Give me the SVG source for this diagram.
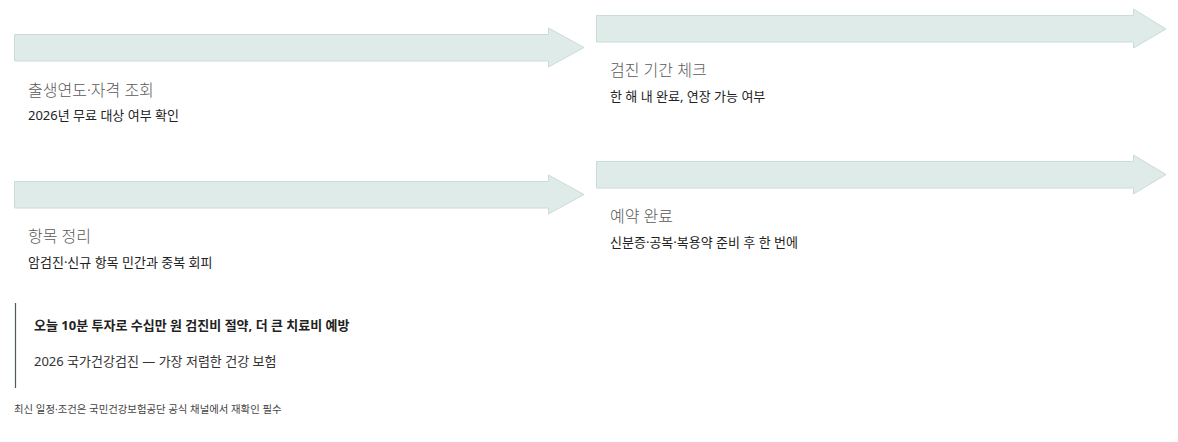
<svg xmlns="http://www.w3.org/2000/svg" width="1178" height="442" viewBox="0 0 1178 442">
<style>
.arrow{fill:#dfebe8;stroke:#cbdcd6;stroke-width:1}
text{font-family:"Noto Sans","Noto Sans CJK KR",sans-serif}
.title{font-size:16px;fill:#5a5a5a;font-weight:300}
.sub{font-size:13px;fill:#222}
.bold{font-size:13px;fill:#222;font-weight:700}
.tag{font-size:13px;fill:#333}
.foot{font-size:10.4px;fill:#444}
</style>
<rect width="1178" height="442" fill="#ffffff"/>
<g id="connectors">
<polygon class="arrow" points="14.5,34.5 548.5,34.5 548.5,28 584,47.5 548.5,67 548.5,61 14.5,61"/>
<polygon class="arrow" points="596.5,15.5 1133.5,15.5 1133.5,9 1166,29 1133.5,48 1133.5,42 596.5,42"/>
<polygon class="arrow" points="14.5,181.5 548.5,181.5 548.5,175 584,194.5 548.5,214 548.5,208 14.5,208"/>
<polygon class="arrow" points="596.5,161.5 1133.5,161.5 1133.5,155 1166,174.5 1133.5,194 1133.5,188 596.5,188"/>
</g>
<g id="step1">
<text class="title" x="28" y="96">출생연도·자격 조회</text>
<text class="sub" x="28" y="120">2026년 무료 대상 여부 확인</text>
</g>
<g id="step2">
<text class="title" x="610" y="76">검진 기간 체크</text>
<text class="sub" x="610" y="101">한 해 내 완료, 연장 가능 여부</text>
</g>
<g id="step3">
<text class="title" x="28" y="242">항목 정리</text>
<text class="sub" x="28" y="267">암검진·신규 항목 민간과 중복 회피</text>
</g>
<g id="step4">
<text class="title" x="610" y="222">예약 완료</text>
<text class="sub" x="610" y="247" textLength="188" lengthAdjust="spacingAndGlyphs">신분증·공복·복용약 준비 후 한 번에</text>
</g>
<g id="callout">
<line x1="15.5" y1="303" x2="15.5" y2="388" stroke="#4d5c57" stroke-width="1.2"/>
<text class="bold" x="34" y="330">오늘 10분 투자로 수십만 원 검진비 절약, 더 큰 치료비 예방</text>
<text class="tag" x="34" y="366">2026 국가건강검진 — 가장 저렴한 건강 보험</text>
</g>
<g id="footer">
<text class="foot" x="14" y="413">최신 일정·조건은 국민건강보험공단 공식 채널에서 재확인 필수</text>
</g>
</svg>
